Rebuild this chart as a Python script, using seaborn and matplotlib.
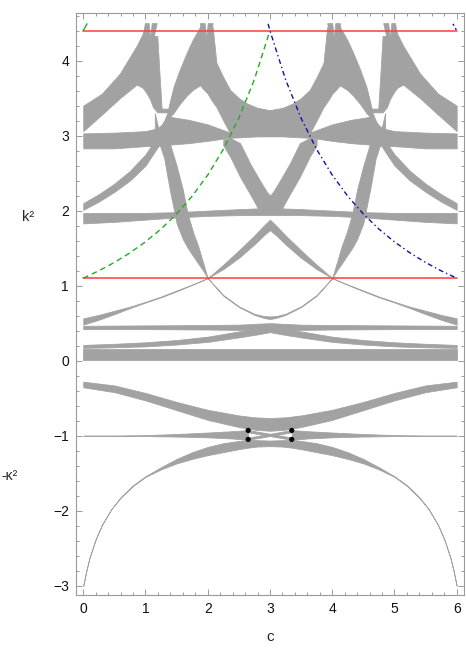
import numpy as np
import matplotlib
matplotlib.use("Agg")
import matplotlib.pyplot as plt
from matplotlib.ticker import MultipleLocator
import seaborn as sns

# --- band data: c values, lower and upper band edges ---

# flat band at the bottom of k^2
flat0_c = [0, 6]
flat0_lo = [0.005, 0.005]
flat0_hi = [0.15, 0.15]

# rising from the left / falling to the right, cap near 0.45 at c=3
cap1_c = [0, 0.5, 1, 1.5, 2, 2.5, 2.8, 3, 3.2, 3.5, 4, 4.5, 5, 5.5, 6]
cap1_lo = [0.17, 0.178, 0.19, 0.215, 0.25, 0.31, 0.35, 0.38, 0.35, 0.31, 0.25, 0.215, 0.19, 0.178, 0.17]
cap1_hi = [0.21, 0.225, 0.245, 0.275, 0.32, 0.39, 0.43, 0.46, 0.43, 0.39, 0.32, 0.275, 0.245, 0.225, 0.21]

h2_c = [0, 1, 2, 2.5, 3, 3.5, 4, 5, 6]
h2_lo = [0.42, 0.42, 0.415, 0.41, 0.405, 0.41, 0.415, 0.42, 0.42]
h2_hi = [0.465, 0.47, 0.475, 0.48, 0.50, 0.48, 0.475, 0.47, 0.465]

# U shaped line between the two crossings at k^2 = 1.1
u1_c = [2.0, 2.25, 2.5, 2.75, 2.9, 3.0, 3.1, 3.25, 3.5, 3.75, 4.0]
u1_lo = [1.1, 0.865, 0.715, 0.61, 0.57, 0.555, 0.57, 0.61, 0.715, 0.865, 1.1]
u1_hi = [1.1, 0.875, 0.725, 0.625, 0.595, 0.59, 0.595, 0.625, 0.725, 0.875, 1.1]

# thin line from (0, 0.5) through (2, 1.1) up to the cap at c=3
cap2_c = [0, 0.25, 0.5, 0.75, 1.0, 1.25, 1.5, 1.75, 2.0, 2.25, 2.5, 2.75, 2.9, 3.0,
          3.1, 3.25, 3.5, 3.75, 4.0, 4.25, 4.5, 4.75, 5.0, 5.25, 5.5, 5.75, 6.0]
cap2_lo = [0.48, 0.545, 0.62, 0.70, 0.775, 0.845, 0.925, 1.01, 1.10, 1.22, 1.37, 1.55, 1.67, 1.74,
           1.67, 1.55, 1.37, 1.22, 1.10, 1.01, 0.925, 0.845, 0.775, 0.70, 0.62, 0.545, 0.48]
cap2_hi = [0.565, 0.61, 0.665, 0.72, 0.785, 0.855, 0.935, 1.015, 1.10, 1.28, 1.47, 1.67, 1.80, 1.88,
           1.80, 1.67, 1.47, 1.28, 1.10, 1.015, 0.935, 0.855, 0.785, 0.72, 0.665, 0.61, 0.565]

h4_c = [0, 0.5, 1, 1.5, 2, 2.5, 2.8, 3, 3.2, 3.5, 4, 4.5, 5, 5.5, 6]
h4_lo = [1.83, 1.85, 1.88, 1.91, 1.93, 1.94, 1.94, 1.94, 1.94, 1.94, 1.93, 1.91, 1.88, 1.85, 1.83]
h4_hi = [1.97, 1.97, 1.97, 1.98, 2.0, 2.02, 2.03, 2.03, 2.03, 2.02, 2.0, 1.98, 1.97, 1.97, 1.97]

r4low_c = [0, 0.25, 0.5, 0.75, 1.0, 1.2]
r4low_lo = [2.01, 2.12, 2.25, 2.4, 2.6, 2.85]
r4low_hi = [2.10, 2.22, 2.36, 2.53, 2.75, 3.0]
d4low_c = [4.8, 5.0, 5.25, 5.5, 5.75, 6]
d4low_lo = [2.85, 2.6, 2.4, 2.25, 2.12, 2.01]
d4low_hi = [3.0, 2.75, 2.53, 2.36, 2.22, 2.10]

h5_c = [0, 0.5, 1.0, 1.2, 1.4, 1.7, 2.0, 2.33, 2.6, 2.8, 3.0,
        3.2, 3.4, 3.67, 4.0, 4.3, 4.6, 4.8, 5.0, 5.5, 6]
h5_lo = [2.83, 2.83, 2.86, 2.86, 2.88, 2.90, 2.93, 2.97, 2.98, 2.99, 2.99,
         2.99, 2.98, 2.97, 2.93, 2.90, 2.88, 2.86, 2.86, 2.83, 2.83]
h5_hi = [3.03, 3.04, 3.06, 3.10, 3.25, 3.21, 3.15, 3.05, 3.15, 3.28, 3.34,
         3.28, 3.15, 3.05, 3.15, 3.21, 3.25, 3.10, 3.06, 3.04, 3.03]

d1mid_c = [1.15, 1.2, 1.3, 1.39, 1.5, 1.6, 1.68, 1.77, 1.85, 1.91, 2.0]
d1mid_lo = [3.1, 2.95, 2.7, 2.28, 1.83, 1.62, 1.5, 1.39, 1.29, 1.22, 1.1]
d1mid_hi = [3.3, 3.12, 3.0, 2.9, 2.6, 2.28, 1.95, 1.7, 1.52, 1.35, 1.1]
r1mid_c = [4.0, 4.09, 4.15, 4.23, 4.32, 4.4, 4.5, 4.61, 4.7, 4.8, 4.85]
r1mid_lo = [1.1, 1.22, 1.29, 1.39, 1.5, 1.62, 1.83, 2.28, 2.7, 2.95, 3.1]
r1mid_hi = [1.1, 1.35, 1.52, 1.7, 1.95, 2.28, 2.6, 2.9, 3.0, 3.12, 3.3]

d1top_c = [0.86, 0.95, 0.99, 1.05, 1.075, 1.12, 1.19, 1.22, 1.26, 1.3, 1.39]
d1top_lo = [3.68, 3.64, 3.6, 3.52, 3.48, 3.38, 3.31, 3.31, 3.31, 3.31, 3.31]
d1top_hi = [4.0, 4.3, 4.5, 4.5, 4.3, 4.33, 4.33, 3.9, 3.36, 3.36, 3.36]
r1top_c = [4.61, 4.7, 4.74, 4.78, 4.81, 4.88, 4.925, 4.95, 5.01, 5.05, 5.14]
r1top_lo = [3.31, 3.31, 3.31, 3.31, 3.31, 3.38, 3.48, 3.52, 3.6, 3.64, 3.68]
r1top_hi = [3.36, 3.36, 3.36, 3.9, 4.33, 4.33, 4.3, 4.5, 4.5, 4.3, 4.0]

r5_c = [0, 0.3, 0.59, 0.86, 0.95, 1.0, 1.05, 1.075, 1.1, 1.14, 1.18]
r5_lo = [3.06, 3.28, 3.5, 3.68, 3.85, 3.95, 4.05, 4.12, 4.2, 4.35, 4.5]
r5_hi = [3.40, 3.56, 3.83, 4.2, 4.35, 4.45, 4.38, 4.3, 4.5, 4.5, 4.5]
d5_c = [4.82, 4.86, 4.9, 4.925, 4.95, 5.0, 5.05, 5.14, 5.41, 5.7, 6.0]
d5_lo = [4.5, 4.35, 4.2, 4.12, 4.05, 3.95, 3.85, 3.68, 3.5, 3.28, 3.06]
d5_hi = [4.5, 4.5, 4.5, 4.3, 4.38, 4.45, 4.35, 4.2, 3.83, 3.56, 3.40]

r4top_c = [1.2, 1.25, 1.3, 1.35, 1.39, 1.45, 1.55, 1.66, 1.76, 1.876, 1.95, 1.975, 2.0, 2.04, 2.08]
r4top_lo = [3.0, 3.05, 3.12, 3.19, 3.25, 3.3, 3.42, 3.53, 3.61, 3.67, 3.85, 3.95, 4.1, 4.3, 4.5]
r4top_hi = [3.08, 3.13, 3.2, 3.3, 3.45, 3.65, 3.88, 4.10, 4.28, 4.45, 4.32, 4.3, 4.5, 4.5, 4.5]
d4top_c = [3.92, 3.96, 4.0, 4.025, 4.05, 4.124, 4.24, 4.34, 4.45, 4.55, 4.61, 4.65, 4.7, 4.75, 4.8]
d4top_lo = [4.5, 4.3, 4.1, 3.95, 3.85, 3.67, 3.61, 3.53, 3.42, 3.3, 3.25, 3.19, 3.12, 3.05, 3.0]
d4top_hi = [4.5, 4.5, 4.5, 4.3, 4.32, 4.45, 4.28, 4.10, 3.88, 3.65, 3.45, 3.3, 3.2, 3.13, 3.08]

# big mass under the cusps at c=2 and c=4
mass_c = [1.876, 1.95, 1.975, 2.0, 2.04, 2.08, 2.14, 2.25, 2.36, 2.5, 2.63, 2.8, 3.0,
          3.2, 3.37, 3.5, 3.64, 3.75, 3.86, 3.92, 3.96, 4.0, 4.025, 4.05, 4.124]
mass_lo = [3.67, 3.6, 3.58, 3.56, 3.5, 3.45, 3.38, 3.2, 3.03, 3.0, 3.0, 3.0, 3.0,
           3.0, 3.0, 3.0, 3.03, 3.2, 3.38, 3.45, 3.5, 3.56, 3.58, 3.6, 3.67]
mass_hi = [4.5, 4.5, 4.3, 4.32, 4.35, 4.45, 3.97, 3.78, 3.61, 3.5, 3.43, 3.37, 3.34,
           3.37, 3.43, 3.5, 3.61, 3.78, 3.97, 4.45, 4.35, 4.32, 4.3, 4.5, 4.5]

# crossing near k^2 = 2.1 at c=3
x2_c = [2.25, 2.36, 2.52, 2.68, 2.84, 2.95, 3.0, 3.05, 3.16, 3.32, 3.48, 3.64, 3.75]
x2_lo = [2.87, 2.72, 2.45, 2.22, 1.98, 1.96, 1.97, 1.96, 1.98, 2.22, 2.45, 2.72, 2.87]
x2_hi = [2.95, 2.97, 2.9, 2.63, 2.4, 2.25, 2.2, 2.25, 2.4, 2.63, 2.9, 2.97, 2.95]

# -kappa^2 side
nt_c = [0, 0.5, 1.0, 1.5, 2.0, 2.5, 2.75, 3.0, 3.25, 3.5, 4.0, 4.5, 5.0, 5.5, 6.0]
nt_lo = [-0.355, -0.42, -0.53, -0.66, -0.79, -0.885, -0.92, -0.935, -0.92, -0.885, -0.79, -0.66, -0.53, -0.42, -0.355]
nt_hi = [-0.28, -0.33, -0.43, -0.55, -0.655, -0.73, -0.755, -0.765, -0.755, -0.73, -0.655, -0.55, -0.43, -0.33, -0.28]

nm_c = [0, 0.5, 1, 1.5, 2, 2.4, 2.65]
nm_lo = [-1.0, -1.002, -1.006, -1.012, -1.022, -1.038, -1.055]
nm_hi = [-1.0, -0.998, -0.992, -0.978, -0.958, -0.94, -0.925]
nmr_c = [3.35, 3.6, 4, 4.5, 5, 5.5, 6]
nmr_lo = [-1.055, -1.038, -1.022, -1.012, -1.006, -1.002, -1.0]
nmr_hi = [-0.925, -0.94, -0.958, -0.978, -0.992, -0.998, -1.0]
xa_c = [2.65, 3.35]
xa_lo = [-0.955, -1.055]
xa_hi = [-0.925, -1.025]
xb_c = [2.65, 3.35]
xb_lo = [-1.055, -0.955]
xb_hi = [-1.025, -0.925]

nl_c = [0, 0.05, 0.1, 0.2, 0.3, 0.45, 0.6, 0.8, 1.0, 1.25, 1.5, 1.75, 2.0, 2.25, 2.5, 2.65, 2.8, 3.0,
        3.2, 3.35, 3.5, 3.75, 4.0, 4.25, 4.5, 4.75, 5.0, 5.2, 5.4, 5.55, 5.7, 5.8, 5.9, 5.95, 6.0]
nl_lo = [-3.0, -2.8, -2.63, -2.38, -2.19, -1.98, -1.83, -1.67, -1.55, -1.45, -1.37, -1.31, -1.26, -1.22, -1.18, -1.16, -1.145, -1.14,
         -1.145, -1.16, -1.18, -1.22, -1.26, -1.31, -1.37, -1.45, -1.55, -1.67, -1.83, -1.98, -2.19, -2.38, -2.63, -2.8, -3.0]
nl_hi = [-3.0, -2.8, -2.63, -2.38, -2.19, -1.98, -1.82, -1.66, -1.54, -1.42, -1.31, -1.22, -1.15, -1.1, -1.07, -1.055, -1.06, -1.065,
         -1.06, -1.055, -1.07, -1.1, -1.15, -1.22, -1.31, -1.42, -1.54, -1.66, -1.82, -1.98, -2.19, -2.38, -2.63, -2.8, -3.0]

dots_c = [2.65, 2.65, 3.35, 3.35]
dots_y = [-0.93, -1.05, -0.93, -1.05]

# dashed guide curves
green_c = [0, 0.25, 0.5, 0.75, 1.0, 1.25, 1.5, 1.75, 2.0, 2.25, 2.5, 2.75, 3.0]
green_y = [1.1, 1.198, 1.309, 1.437, 1.584, 1.755, 1.956, 2.193, 2.475, 2.816, 3.233, 3.749, 4.4]
green2_c = [0, 0.06]
green2_y = [4.4, 4.49]
blue_c = [2.97, 3.0, 3.25, 3.5, 3.75, 4.0, 4.25, 4.5, 4.75, 5.0, 5.25, 5.5, 5.75, 6.0]
blue_y = [4.49, 4.4, 3.749, 3.233, 2.816, 2.475, 2.193, 1.956, 1.755, 1.584, 1.437, 1.309, 1.198, 1.1]
blue2_c = [5.94, 6.0]
blue2_y = [4.49, 4.4]
red_c = [0, 6]
red_levels = [4.4, 1.1]

bands = [
    (flat0_c, flat0_lo, flat0_hi), (cap1_c, cap1_lo, cap1_hi), (h2_c, h2_lo, h2_hi),
    (u1_c, u1_lo, u1_hi), (cap2_c, cap2_lo, cap2_hi), (h4_c, h4_lo, h4_hi),
    (r4low_c, r4low_lo, r4low_hi), (d4low_c, d4low_lo, d4low_hi), (h5_c, h5_lo, h5_hi),
    (d1mid_c, d1mid_lo, d1mid_hi), (r1mid_c, r1mid_lo, r1mid_hi),
    (d1top_c, d1top_lo, d1top_hi), (r1top_c, r1top_lo, r1top_hi),
    (r5_c, r5_lo, r5_hi), (d5_c, d5_lo, d5_hi),
    (r4top_c, r4top_lo, r4top_hi), (d4top_c, d4top_lo, d4top_hi),
    (mass_c, mass_lo, mass_hi), (x2_c, x2_lo, x2_hi),
    (nt_c, nt_lo, nt_hi), (nm_c, nm_lo, nm_hi), (nmr_c, nmr_lo, nmr_hi),
    (xa_c, xa_lo, xa_hi), (xb_c, xb_lo, xb_hi), (nl_c, nl_lo, nl_hi),
]

sns.set_style("ticks")
plt.rcParams['font.family'] = ['Liberation Sans', 'DejaVu Sans']

GRAY = '#a2a2a2'
FRAME = '#9a9a9a'

fig = plt.figure(figsize=(4.66, 6.6), dpi=100)
ax = fig.add_axes([0.163, 0.0985, 0.833, 0.8815])

for c, lo, hi in bands:
    ax.fill_between(c, lo, hi, color=GRAY, edgecolor=GRAY, linewidth=0.55, zorder=2)

for lvl in red_levels:
    sns.lineplot(x=red_c, y=[lvl, lvl], ax=ax, color='#ff3c3c', linewidth=1.1, zorder=3)

sns.lineplot(x=green_c, y=green_y, ax=ax, color='#1fae1f', linewidth=1.0,
             linestyle=(0, (4, 2.8)), zorder=4, sort=False)
sns.lineplot(x=green2_c, y=green2_y, ax=ax, color='#1fae1f', linewidth=1.0, zorder=4, sort=False)
sns.lineplot(x=blue_c, y=blue_y, ax=ax, color='#1010a8', linewidth=1.0,
             linestyle=(0, (3.5, 2.2, 1, 2.2)), zorder=4, sort=False)
sns.lineplot(x=blue2_c, y=blue2_y, ax=ax, color='#1010a8', linewidth=1.0,
             linestyle=(0, (1.5, 2)), zorder=4, sort=False)

sns.scatterplot(x=dots_c, y=dots_y, ax=ax, color='black', s=14, edgecolor='none', zorder=5)

ax.set_xlim(-0.117, 6.12)
ax.set_ylim(-3.124, 4.632)
ax.set_xticks(range(7))
ax.set_yticks(range(-3, 5))
ax.xaxis.set_minor_locator(MultipleLocator(0.2))
ax.yaxis.set_minor_locator(MultipleLocator(0.2))
ax.tick_params(which='both', direction='in', top=True, right=True, color=FRAME, width=0.7)
ax.tick_params(which='major', length=4.5, labelsize=10, labelcolor='#111111', pad=5)
ax.tick_params(which='minor', length=2.5)
for sp in ax.spines.values():
    sp.set_color(FRAME)
    sp.set_linewidth(0.8)

ax.set_xlabel('')
ax.set_ylabel('')
fig.text(270 / 466, 1 - 637 / 660, 'c', fontsize=11, ha='center', va='center')
fig.text(28 / 466, 1 - 217 / 660, 'k²', fontsize=10.5, ha='center', va='center')
fig.text(9 / 466, 1 - 476 / 660, '-κ²', fontsize=10, ha='center', va='center')

fig.savefig('out.png', dpi=100)
